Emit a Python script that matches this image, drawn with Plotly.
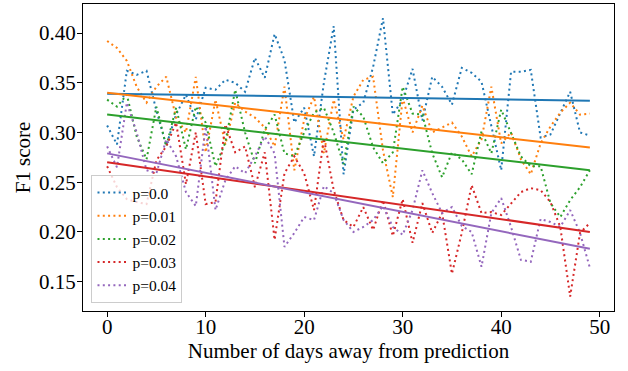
import plotly.graph_objects as go

days = list(range(50))
labels = ["p=0.0", "p=0.01", "p=0.02", "p=0.03", "p=0.04"]
colors = ["#1f77b4", "#ff7f0e", "#2ca02c", "#d62728", "#9467bd"]

p000 = [0.307, 0.288, 0.362, 0.358, 0.362, 0.322, 0.287, 0.318, 0.338, 0.313,
        0.345, 0.343, 0.353, 0.350, 0.341, 0.375, 0.355, 0.399, 0.373, 0.310,
        0.325, 0.276, 0.350, 0.407, 0.258, 0.323, 0.330, 0.366, 0.415, 0.318,
        0.333, 0.364, 0.312, 0.356, 0.346, 0.328, 0.365, 0.360, 0.351, 0.305,
        0.262, 0.361, 0.361, 0.363, 0.295, 0.298, 0.320, 0.341, 0.300, 0.297]
p001 = [0.392, 0.385, 0.372, 0.346, 0.330, 0.346, 0.356, 0.315, 0.300, 0.356,
        0.280, 0.333, 0.288, 0.330, 0.321, 0.315, 0.305, 0.286, 0.346, 0.262,
        0.313, 0.336, 0.279, 0.333, 0.293, 0.336, 0.353, 0.356, 0.282, 0.235,
        0.335, 0.300, 0.327, 0.300, 0.305, 0.310, 0.296, 0.276, 0.293, 0.346,
        0.289, 0.300, 0.273, 0.258, 0.289, 0.306, 0.320, 0.330, 0.318, 0.319]
p002 = [0.333, 0.326, 0.338, 0.296, 0.273, 0.326, 0.286, 0.325, 0.283, 0.326,
        0.310, 0.266, 0.290, 0.343, 0.300, 0.269, 0.303, 0.318, 0.279, 0.276,
        0.300, 0.320, 0.325, 0.300, 0.268, 0.326, 0.316, 0.285, 0.269, 0.280,
        0.346, 0.319, 0.318, 0.279, 0.255, 0.280, 0.273, 0.258, 0.301, 0.279,
        0.323, 0.300, 0.276, 0.266, 0.266, 0.229, 0.215, 0.232, 0.245, 0.262]
p003 = [0.266, 0.245, 0.233, 0.230, 0.228, 0.272, 0.286, 0.310, 0.248, 0.300,
        0.228, 0.230, 0.308, 0.280, 0.286, 0.245, 0.280, 0.192, 0.259, 0.276,
        0.259, 0.222, 0.294, 0.242, 0.212, 0.205, 0.225, 0.202, 0.232, 0.196,
        0.233, 0.189, 0.229, 0.199, 0.219, 0.158, 0.199, 0.247, 0.219, 0.220,
        0.217, 0.229, 0.240, 0.244, 0.242, 0.230, 0.205, 0.135, 0.199, 0.209]
p004 = [0.286, 0.265, 0.330, 0.300, 0.262, 0.259, 0.293, 0.276, 0.240, 0.226,
        0.306, 0.222, 0.252, 0.266, 0.259, 0.276, 0.296, 0.279, 0.185, 0.199,
        0.215, 0.212, 0.246, 0.239, 0.212, 0.200, 0.205, 0.212, 0.226, 0.205,
        0.197, 0.222, 0.262, 0.239, 0.219, 0.225, 0.206, 0.200, 0.165, 0.219,
        0.234, 0.205, 0.172, 0.170, 0.213, 0.210, 0.205, 0.222, 0.199, 0.164]
series = [p000, p001, p002, p003, p004]

trend_start = [0.339, 0.340, 0.318, 0.270, 0.279]
trend_end = [0.332, 0.285, 0.262, 0.200, 0.183]

x_ticks = [0, 10, 20, 30, 40, 50]
y_ticks = [0.15, 0.20, 0.25, 0.30, 0.35, 0.40]

FONT = "Liberation Serif, Times New Roman, serif"

fig = go.Figure()
for name, col, ys in zip(labels, colors, series):
    fig.add_trace(go.Scatter(x=days, y=ys, mode="lines", name=name,
                             line=dict(color=col, width=2, dash="2px,3.3px")))
for col, s, e in zip(colors, trend_start, trend_end):
    fig.add_trace(go.Scatter(x=[days[0], days[-1]], y=[s, e], mode="lines",
                             showlegend=False, line=dict(color=col, width=2)))

axis_common = dict(showline=True, linecolor="black", linewidth=1.3, mirror=True,
                   ticks="outside", ticklen=5, tickwidth=1.2, tickcolor="black",
                   showgrid=False, zeroline=False,
                   tickfont=dict(family=FONT, size=21, color="black"))

fig.update_layout(
    width=628, height=371,
    margin=dict(l=83, r=14, t=4, b=60),
    paper_bgcolor="white", plot_bgcolor="white",
    font=dict(family=FONT, color="black"),
    xaxis=dict(range=[-2.45, 51.45], tickvals=x_ticks,
               ticktext=[str(v) for v in x_ticks], ticklabelstandoff=-8,
               title=dict(text="Number of days away from prediction",
                          font=dict(family=FONT, size=21), standoff=0),
               **axis_common),
    yaxis=dict(range=[0.1205, 0.4292], tickvals=y_ticks,
               ticktext=[f"{v:.2f}" for v in y_ticks], ticklabelstandoff=-3,
               title=dict(text="F1 score", font=dict(family=FONT, size=21), standoff=2),
               **axis_common),
    legend=dict(x=0.016, y=0.026, xanchor="left", yanchor="bottom",
                bgcolor="rgba(255,255,255,0.8)", bordercolor="#cccccc", borderwidth=1,
                font=dict(family=FONT, size=15.5, color="black"),
                tracegroupgap=0, itemwidth=30),
    showlegend=True,
)

fig.write_html("out.html")
